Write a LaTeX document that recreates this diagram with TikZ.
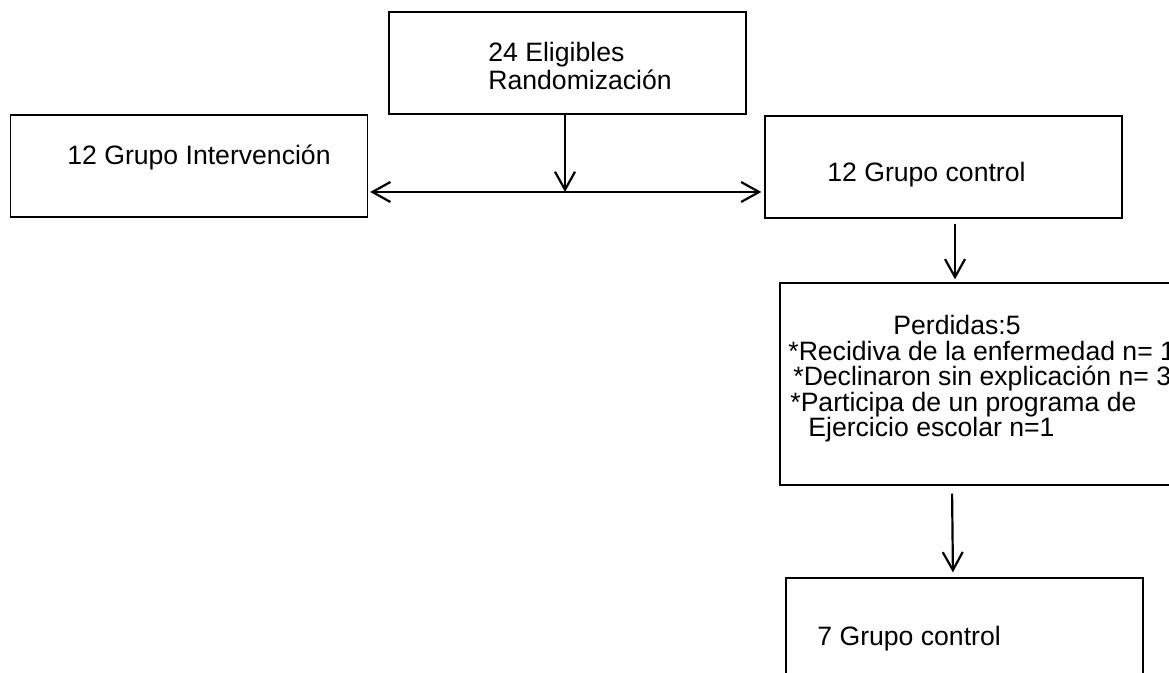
\documentclass[tikz,border=0pt]{standalone}
\usepackage{fontspec}
\setmainfont{Liberation Sans}
\usepackage{tikz}
\usetikzlibrary{arrows.meta,positioning,calc}
\tikzset{
  flowbox/.style={
    rectangle, draw=black, line width=0.65pt,
    minimum width=178.5pt, minimum height=51pt,
    inner sep=0pt
  },
  flowtext/.style={
    font=\fontsize{13.3}{#1}\selectfont, align=left,
    anchor=base west, inner sep=0pt
  },
  flowtext/.default=14pt,
  flowtip/.style={Straight Barb[length=9pt,width=10pt]},
  flowarrow/.style={
    -{Straight Barb[length=9pt,width=10pt]}, line width=1.1pt
  },
}
\begin{document}
\begin{tikzpicture}[x=0.5pt, y=-0.5pt]
  \useasboundingbox (0,0) rectangle (1169,673);
  \clip (0,0) rectangle (1169,673);

  % Boxes
  \node[flowbox] (rand) at (567.5,63) {};
  \node[flowbox] (interv) at (189,166) {};
  \node[flowbox] (ctrl) at (943.5,167) {};
  \node[flowbox, minimum width=220pt, minimum height=101pt] (lost) at (1000,384) {};
  \node[flowbox, minimum height=55pt] (ctrl_end) at (964.5,633) {};

  % Texts
  \node[flowtext] (rand_txt) at (488,90) {24 Eligibles\\Randomización};
  \node[flowtext] (interv_txt) at (67,165) {12 Grupo Intervención};
  \node[flowtext] (ctrl_txt) at (827,182) {12 Grupo control};
  \node[flowtext=12.75pt] (lost_txt) at (788,437) {%
    \hspace*{52.5pt}Perdidas:5\\
    *Recidiva de la enfermedad n= 1\\
    \hspace*{2.5pt}*Declinaron sin explicación n= 3\\
    \hspace*{1pt}*Participa de un programa de\\
    \hspace*{10pt}Ejercicio escolar n=1};
  \node[flowtext] (ctrl_end_txt) at (817,646) {7 Grupo control};

  % Arrows
  \coordinate (split) at (565,192);
  \draw[flowarrow] (split |- rand.south) -- (split);
  \draw[line width=1.1pt, {Straight Barb[length=9pt,width=10pt]}-{Straight Barb[length=9pt,width=10pt]},
    shorten <=1pt, shorten >=1.5pt]
    (interv.east |- split) -- (ctrl.west |- split);
  \draw[flowarrow, shorten <=2.5pt, shorten >=1.5pt]
    ($(ctrl.south)+(11.5,0)$) -- ($(ctrl.south |- lost.north)+(11.5,0)$);
  \draw[flowarrow, shorten <=4pt, shorten >=2.5pt]
    ($(ctrl_end.north |- lost.south)+(-12.5,0)$) -- ($(ctrl_end.north)+(-11.5,0)$);
\end{tikzpicture}
\end{document}
